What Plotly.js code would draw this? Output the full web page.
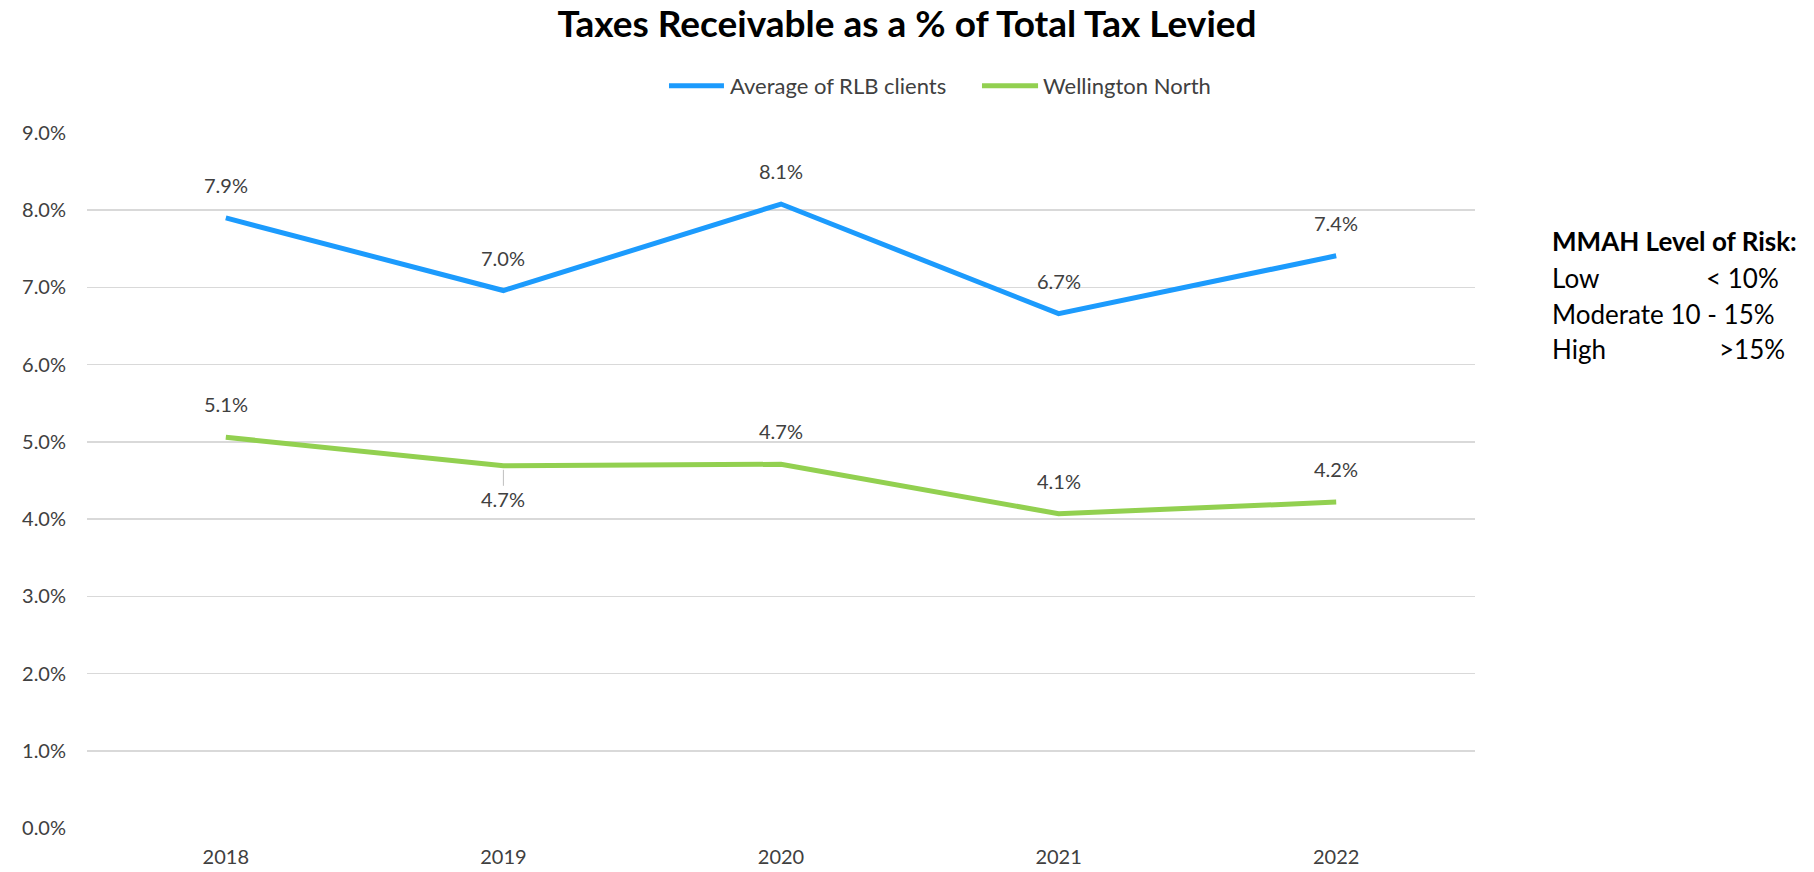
<!DOCTYPE html>
<html>
<head>
<meta charset="utf-8">
<script src="https://cdn.plot.ly/plotly-3.0.1.min.js"></script>
<style>html,body{margin:0;padding:0;background:#fff;}#chart{width:1814px;height:872px;}</style>
</head>
<body>
<div id="chart"></div>
<script>
const years = ['2018', '2019', '2020', '2021', '2022'];
const rlbAverage = [0.0790, 0.0696, 0.0808, 0.0666, 0.0741];
const wellingtonNorth = [0.0506, 0.0469, 0.0471, 0.0407, 0.0422];
const rlbLabelSide = [1, 1, 1, 1, 1];
const wellingtonLabelSide = [1, -1, 1, 1, 1];
const seriesNames = ['Average of RLB clients', 'Wellington North'];
const seriesColors = ['#1C9BFD', '#92D050'];
const yTicks = [0, 0.01, 0.02, 0.03, 0.04, 0.05, 0.06, 0.07, 0.08, 0.09];
const riskTitle = 'MMAH Level of Risk:';
const riskLabels = ['Low', 'Moderate 10 - 15%', 'High'];
const riskValues = ['< 10%', '', '>15%'];

const FONT = 'Lato, Carlito, Calibri, sans-serif';
const TXT = '#404040';

const traces = [
  {
    x: years, y: rlbAverage, name: seriesNames[0], type: 'scatter', mode: 'lines',
    line: {color: seriesColors[0], width: 5}, hoverinfo: 'skip', showlegend: false
  },
  {
    x: years, y: wellingtonNorth, name: seriesNames[1], type: 'scatter', mode: 'lines',
    line: {color: seriesColors[1], width: 5}, hoverinfo: 'skip', showlegend: false
  }
];

const annotations = [];
const shapes = [];
function addLabels(vals, sides) {
  vals.forEach((v, i) => {
    annotations.push({
      xref: 'x', yref: 'y', x: i, y: v, text: (v * 100).toFixed(1) + '%',
      showarrow: false, xanchor: 'center', yanchor: 'middle', yshift: 33 * sides[i],
      font: {family: FONT, size: 20, color: TXT}
    });
    if (sides[i] < 0) {
      shapes.push({
        type: 'line', xref: 'x', yref: 'y', ysizemode: 'pixel', yanchor: v,
        x0: i, x1: i, y0: -4, y1: -20, line: {color: '#BFBFBF', width: 1}
      });
    }
  });
}
addLabels(rlbAverage, rlbLabelSide);
addLabels(wellingtonNorth, wellingtonLabelSide);

// legend drawn as lines + labels above the plot
const legendLineX = [[0.4193, 0.4589], [0.6448, 0.6852]];
const legendTextX = [0.4615, 0.6870];
const legendY = 1.068;
seriesNames.forEach((nm, i) => {
  shapes.push({
    type: 'line', xref: 'paper', yref: 'paper', x0: legendLineX[i][0], x1: legendLineX[i][1],
    y0: legendY, y1: legendY, line: {color: seriesColors[i], width: 5}
  });
  annotations.push({
    xref: 'paper', yref: 'paper', x: legendTextX[i], y: legendY, xanchor: 'left', yanchor: 'middle',
    text: nm, showarrow: false, font: {family: FONT, size: 22, color: TXT}
  });
});

annotations.push({
  xref: 'paper', yref: 'paper', x: 1.054, y: 0.845, xanchor: 'left', yanchor: 'middle',
  text: '<b>' + riskTitle + '</b>', showarrow: false,
  font: {family: FONT, size: 26, color: '#000'}
});
const riskY = [0.792, 0.740, 0.689];
const riskValX = [1.2205, 1.2205, 1.2245];
riskLabels.forEach((lab, i) => {
  annotations.push({
    xref: 'paper', yref: 'paper', x: 1.054, y: riskY[i], xanchor: 'left', yanchor: 'middle',
    text: lab, showarrow: false, font: {family: FONT, size: 26, color: '#000'}
  });
  if (riskValues[i]) {
    annotations.push({
      xref: 'paper', yref: 'paper', x: riskValX[i], y: riskY[i], xanchor: 'right', yanchor: 'middle',
      text: riskValues[i], showarrow: false, font: {family: FONT, size: 26, color: '#000'}
    });
  }
});

const layout = {
  width: 1814, height: 872,
  paper_bgcolor: '#fff', plot_bgcolor: '#fff',
  margin: {l: 87, r: 339, t: 133, b: 44},
  font: {family: FONT, color: TXT, size: 20},
  title: {text: '<b>Taxes Receivable as a % of Total Tax Levied</b>', x: 0.5, xref: 'container', xanchor: 'center',
          y: 0.973, yanchor: 'middle', font: {family: FONT, size: 37, color: '#000'}},
  showlegend: false,
  xaxis: {type: 'category', range: [-0.5, 4.5], showgrid: false, zeroline: false, showline: false,
          ticks: '', ticklabelstandoff: 15, tickfont: {family: FONT, size: 20, color: TXT}, fixedrange: true},
  yaxis: {range: [0, 0.09], tickvals: yTicks, tickformat: '.1%', showgrid: true, gridcolor: '#D9D9D9',
          gridwidth: 1.5, zeroline: false, showline: false, ticks: '', ticklabelstandoff: 20,
          tickfont: {family: FONT, size: 20, color: TXT}, fixedrange: true},
  annotations: annotations,
  shapes: shapes
};

Plotly.newPlot('chart', traces, layout, {displayModeBar: false, staticPlot: true});
</script>
</body>
</html>
